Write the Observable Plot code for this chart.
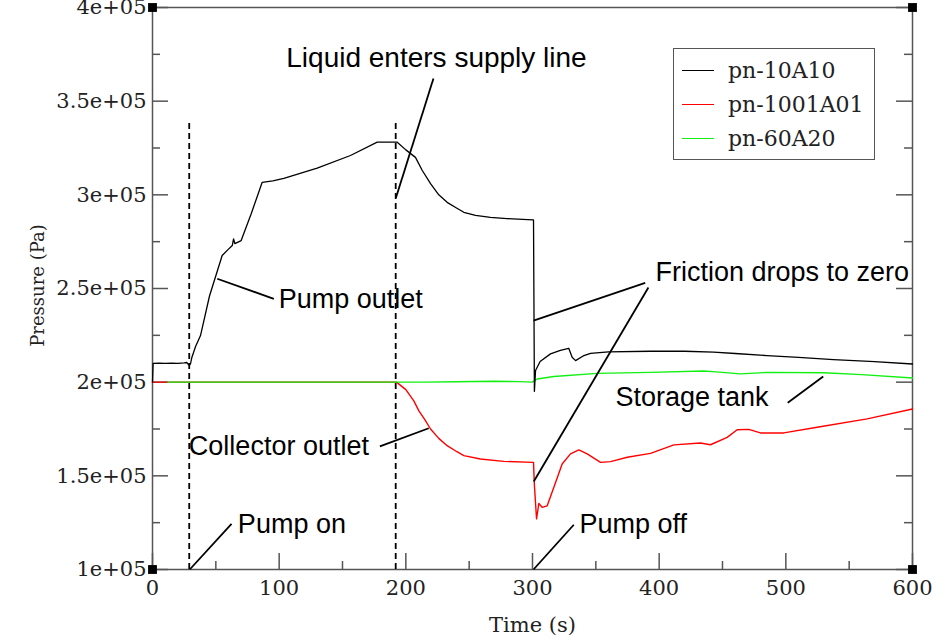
<!DOCTYPE html>
<html><head><meta charset="utf-8">
<script src="https://cdn.jsdelivr.net/npm/d3@7"></script>
<script src="https://cdn.jsdelivr.net/npm/@observablehq/plot@0.6"></script>
<style>
html,body{margin:0;padding:0;background:#fff;}
#chart{position:relative;width:944px;height:643px;overflow:hidden;}
#legend{position:absolute;left:673px;top:48px;width:200px;height:110px;border:1.5px solid #555;background:#fff;font-family:"DejaVu Serif";font-size:22px;color:#222;}
#legend .row{position:absolute;left:8px;height:30px;display:flex;align-items:center;}
#legend .sw{width:32px;height:0;border-top:1.3px solid;margin-right:14px;}
</style></head>
<body><div id="chart"></div>
<script>
// ---------- data ----------
const seriesNames = ["pn-10A10", "pn-1001A01", "pn-60A20"];
const seriesColors = ["#000000", "#ff0000", "#11f011"];

const blackT = [0, 0.5, 5, 10, 15, 20, 25, 27, 29, 30, 31, 34, 37.9, 45, 55, 60, 63, 64, 65, 70, 78, 86.6, 95, 103.7, 130, 156.3, 177.4, 193.2, 200, 207.6, 213, 219.5, 226, 232.6, 240, 245.8, 255, 266.8, 280, 300.3, 300.8, 301.5, 302.4, 306, 314.2, 322, 328.6, 331.3, 334, 340, 345.8, 360, 393, 420, 443, 460, 485, 510, 537.6, 570, 600];
const blackP = [2.0e5, 2.1e5, 2.102e5, 2.1e5, 2.101e5, 2.1e5, 2.103e5, 2.105e5, 2.09e5, 2.098e5, 2.13e5, 2.19e5, 2.249e5, 2.46e5, 2.676e5, 2.71e5, 2.73e5, 2.765e5, 2.74e5, 2.756e5, 2.9e5, 3.067e5, 3.075e5, 3.088e5, 3.142e5, 3.21e5, 3.281e5, 3.281e5, 3.24e5, 3.2e5, 3.13e5, 3.06e5, 3.0e5, 2.96e5, 2.93e5, 2.907e5, 2.89e5, 2.88e5, 2.873e5, 2.866e5, 2.866e5, 1.951e5, 2.062e5, 2.11e5, 2.151e5, 2.17e5, 2.181e5, 2.133e5, 2.115e5, 2.14e5, 2.154e5, 2.162e5, 2.165e5, 2.165e5, 2.16e5, 2.153e5, 2.142e5, 2.132e5, 2.12e5, 2.11e5, 2.097e5];

const redT = [0, 192.6, 200, 206.3, 210.2, 215, 219.5, 226, 232.6, 240, 245.8, 258.9, 277.3, 300.3, 300.8, 301.5, 303.2, 305, 307.6, 311.6, 316.8, 323.4, 330, 336.6, 343.2, 353.7, 361.6, 374.8, 393.2, 411.6, 432.6, 440.5, 453.7, 461.6, 470.8, 480, 498.4, 524.7, 564.2, 600];
const redP = [2.0e5, 2.0e5, 1.96e5, 1.9e5, 1.848e5, 1.8e5, 1.75e5, 1.70e5, 1.661e5, 1.63e5, 1.608e5, 1.59e5, 1.577e5, 1.572e5, 1.572e5, 1.45e5, 1.27e5, 1.353e5, 1.332e5, 1.34e5, 1.438e5, 1.563e5, 1.617e5, 1.638e5, 1.617e5, 1.572e5, 1.576e5, 1.599e5, 1.62e5, 1.665e5, 1.675e5, 1.666e5, 1.705e5, 1.746e5, 1.748e5, 1.729e5, 1.729e5, 1.759e5, 1.804e5, 1.857e5];

const greenT = [12, 192.6, 214, 240, 269.5, 290, 299.7, 303.7, 316.8, 351, 393, 435, 445, 464, 485, 530, 560, 600];
const greenP = [2.0e5, 2.0e5, 2.0e5, 2.002e5, 2.005e5, 2.003e5, 2.0e5, 2.017e5, 2.03e5, 2.047e5, 2.052e5, 2.06e5, 2.055e5, 2.044e5, 2.052e5, 2.05e5, 2.04e5, 2.022e5];

const xDomain = [0, 600];
const yDomain = [1e5, 4e5];
const xMajor = [0, 100, 200, 300, 400, 500, 600];
const xTickLabels = ["0", "100", "200", "300", "400", "500", "600"];
const xMinor = [50, 150, 250, 350, 450, 550];
const yMajor = [1e5, 1.5e5, 2e5, 2.5e5, 3e5, 3.5e5, 4e5];
const yTickLabels = ["1e+05", "1.5e+05", "2e+05", "2.5e+05", "3e+05", "3.5e+05", "4e+05"];
const yMinor = [1.25e5, 1.75e5, 2.25e5, 2.75e5, 3.25e5, 3.75e5];

const eventT = [29, 192];
const eventTop = [3.39e5, 3.39e5];

const annoText = ["Liquid enters supply line", "Pump outlet", "Friction drops to zero", "Storage tank", "Collector outlet", "Pump on", "Pump off"];
const annoT = [224.2, 99.7, 397.1, 365.5, 28.7, 67.4, 337.1];
const annoP = [3.728e5, 2.441e5, 2.585e5, 1.918e5, 1.657e5, 1.24e5, 1.24e5];
const annoAnchor = ["middle", "start", "start", "start", "start", "start", "start"];

const leaderT1 = [221.8, 51.1, 389, 391.5, 501.5, 179.5, 29.4, 300.8];
const leaderP1 = [3.621e5, 2.552e5, 2.53e5, 2.505e5, 1.89e5, 1.657e5, 1e5, 1e5];
const leaderT2 = [192.2, 95.8, 300.8, 301, 529.5, 218.1, 62.4, 332.6];
const leaderP2 = [2.984e5, 2.445e5, 2.329e5, 1.47e5, 2.03e5, 1.754e5, 1.244e5, 1.239e5];

// ---------- build ----------
const W = 944, H = 643, ML = 152, MR = 32, MT = 7, MB = 74;
const plotW = W - ML - MR, plotH = H - MT - MB;
const zip = (ts, ps) => ts.map((t, i) => ({t, p: ps[i]}));
const black = zip(blackT, blackP), red = zip(redT, redP), green = zip(greenT, greenP);
const events = eventT.map((t, i) => ({t, top: eventTop[i]}));
const annos = annoText.map((s, i) => ({s, t: annoT[i], p: annoP[i], a: annoAnchor[i]}));
const leaders = leaderT1.map((t, i) => ({t1: t, p1: leaderP1[i], t2: leaderT2[i], p2: leaderP2[i]}));
const corners = [{t: xDomain[0], p: yDomain[0]}, {t: xDomain[1], p: yDomain[0]}, {t: xDomain[0], p: yDomain[1]}, {t: xDomain[1], p: yDomain[1]}];
const xLab = new Map(xMajor.map((d, i) => [d, xTickLabels[i]]));
const yLab = new Map(yMajor.map((d, i) => [d, yTickLabels[i]]));
const axisColor = "#555";
const sans = "'Liberation Sans', Arial, sans-serif";

const chart = Plot.plot({
  width: W, height: H,
  marginLeft: ML, marginRight: MR, marginTop: MT, marginBottom: MB,
  x: {domain: xDomain},
  y: {domain: yDomain},
  style: {fontFamily: "'DejaVu Serif', serif", fontSize: "21px", color: "#222", background: "white"},
  marks: [
    Plot.axisX(xMajor, {tickSize: 0, tickPadding: 11, tickFormat: d => xLab.get(d), label: null, fill: "#222", fontSize: 21}),
    Plot.axisY(yMajor, {tickSize: 0, tickPadding: 6, tickFormat: d => yLab.get(d), label: null, fill: "#222", fontSize: 21}),
    Plot.tickY(yMajor, {y: d => d, insetRight: plotW - 16, stroke: axisColor, strokeWidth: 1.5}),
    Plot.tickY(yMinor, {y: d => d, insetRight: plotW - 8, stroke: axisColor, strokeWidth: 1.5}),
    Plot.tickY(yMajor, {y: d => d, insetLeft: plotW - 16, stroke: axisColor, strokeWidth: 1.5}),
    Plot.tickY(yMinor, {y: d => d, insetLeft: plotW - 8, stroke: axisColor, strokeWidth: 1.5}),
    Plot.tickX(xMajor, {x: d => d, insetTop: plotH - 16, stroke: axisColor, strokeWidth: 1.5}),
    Plot.tickX(xMinor, {x: d => d, insetTop: plotH - 8, stroke: axisColor, strokeWidth: 1.5}),
    Plot.frame({stroke: axisColor, strokeWidth: 1.5}),
    Plot.text(["Time (s)"], {frameAnchor: "bottom", textAnchor: "middle", lineAnchor: "middle", dy: 56, fontSize: 21, fill: "#222"}),
    Plot.text(["Pressure (Pa)"], {frameAnchor: "left", textAnchor: "middle", lineAnchor: "middle", dx: -114, dy: -3, rotate: -90, fontSize: 18, fill: "#222"}),
    Plot.ruleX(events, {x: "t", y1: yDomain[0], y2: "top", stroke: "#000", strokeWidth: 1.8, strokeDasharray: "6,4"}),
    Plot.line(red, {x: "t", y: "p", stroke: seriesColors[1], strokeWidth: 1.4}),
    Plot.line(green, {x: "t", y: "p", stroke: seriesColors[2], strokeWidth: 1.4}),
    Plot.line(black, {x: "t", y: "p", stroke: seriesColors[0], strokeWidth: 1.3}),
    Plot.link(leaders, {x1: "t1", y1: "p1", x2: "t2", y2: "p2", stroke: "#000", strokeWidth: 1.8}),
    Plot.text(annos, {x: "t", y: "p", text: "s", textAnchor: "start", fontFamily: sans, fontSize: 27, fill: "#000", filter: d => d.a === "start"}),
    Plot.text(annos, {x: "t", y: "p", text: "s", textAnchor: "middle", fontFamily: sans, fontSize: 28, fill: "#000", filter: d => d.a === "middle"}),
    Plot.dot(corners, {x: "t", y: "p", symbol: "square", r: 5, fill: "#000"})
  ]
});

const root = document.getElementById("chart");
root.appendChild(chart);
const legend = document.createElement("div");
legend.id = "legend";
const rowTops = [6, 40, 74];
seriesNames.forEach((name, i) => {
  const row = document.createElement("div");
  row.className = "row";
  row.style.top = rowTops[i] + "px";
  const sw = document.createElement("span");
  sw.className = "sw";
  sw.style.borderTopColor = seriesColors[i];
  const lab = document.createElement("span");
  lab.textContent = name;
  row.appendChild(sw);
  row.appendChild(lab);
  legend.appendChild(row);
});
root.appendChild(legend);
</script>
</body></html>
